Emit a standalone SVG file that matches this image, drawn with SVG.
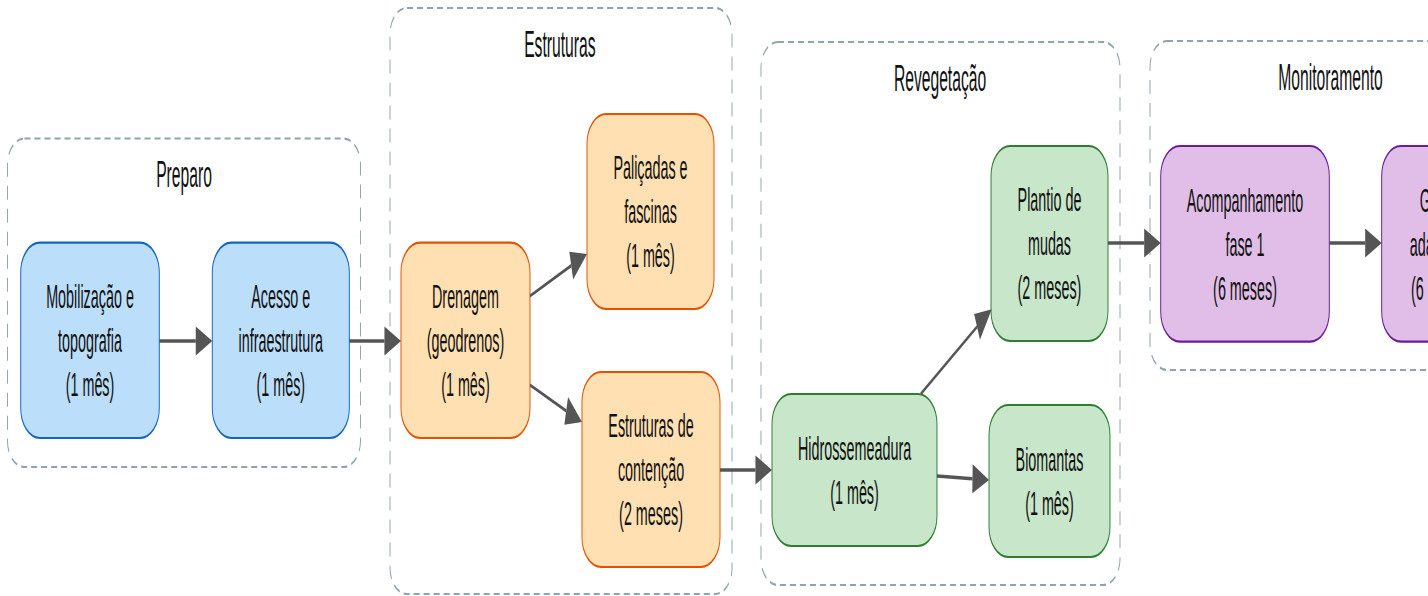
<svg xmlns="http://www.w3.org/2000/svg" width="1428" height="596" viewBox="0 0 1428 596">
<style>
.cl{fill:#fff;stroke:#90a4ae;stroke-width:2.2;stroke-dasharray:14 9}
.ct{font-family:"Liberation Sans",Arial,sans-serif;font-size:36px;fill:#111;text-anchor:middle}
.nt{font-family:"Liberation Sans",Arial,sans-serif;font-size:33px;fill:#111;text-anchor:middle}
.b{fill:#bbdefb;stroke:#1565c0;stroke-width:2.2}
.o{fill:#ffe0b2;stroke:#e65100;stroke-width:2.2}
.g{fill:#c8e6c9;stroke:#2e7d32;stroke-width:2.2}
.p{fill:#e1bee7;stroke:#6a1b9a;stroke-width:2.2}
.e{fill:none;stroke:#555;stroke-width:3.4}
</style>
<defs>
<marker id="ah" markerUnits="userSpaceOnUse" markerWidth="40" markerHeight="30" refX="0" refY="14.5" orient="auto" overflow="visible">
<path d="M0,0 L38,14.5 L0,29 z" fill="#555"/>
</marker>
</defs>
<rect width="1428" height="596" fill="#fff"/>
<g transform="scale(0.435,1)">
<g id="cluster-preparo">
<rect class="cl" x="17.2" y="138.5" width="811.5" height="328.5" rx="39" ry="26"/>
<text class="ct" x="423" y="187">Preparo</text>
</g>
<g id="cluster-estruturas">
<rect class="cl" x="896.6" y="8" width="786.2" height="586" rx="39" ry="26"/>
<text class="ct" x="1287" y="57">Estruturas</text>
</g>
<g id="cluster-revegetacao">
<rect class="cl" x="1749.4" y="42" width="825.3" height="543" rx="39" ry="26"/>
<text class="ct" x="2161" y="91">Revegetação</text>
</g>
<g id="cluster-monitoramento">
<rect class="cl" x="2643.7" y="41" width="829.9" height="329" rx="39" ry="26"/>
<text class="ct" x="3058.6" y="90">Monitoramento</text>
</g>

<g id="n-mobilizacao">
<rect class="b" x="47.6" y="242.7" width="318.6" height="195.3" rx="44" ry="30"/>
<text class="nt" x="206.9" y="308">Mobilização e</text>
<text class="nt" x="206.9" y="352">topografia</text>
<text class="nt" x="206.9" y="396">(1 mês)</text>
</g>
<g id="n-acesso">
<rect class="b" x="488" y="242.7" width="315" height="195.3" rx="44" ry="30"/>
<text class="nt" x="645.5" y="308">Acesso e</text>
<text class="nt" x="645.5" y="352">infraestrutura</text>
<text class="nt" x="645.5" y="396">(1 mês)</text>
</g>
<g id="n-drenagem">
<rect class="o" x="921.8" y="242.7" width="296.6" height="195.3" rx="44" ry="30"/>
<text class="nt" x="1070.1" y="308">Drenagem</text>
<text class="nt" x="1070.1" y="352">(geodrenos)</text>
<text class="nt" x="1070.1" y="396">(1 mês)</text>
</g>
<g id="n-palicadas">
<rect class="o" x="1349.4" y="114" width="292" height="195" rx="44" ry="30"/>
<text class="nt" x="1495.4" y="179.5">Paliçadas e</text>
<text class="nt" x="1495.4" y="223.5">fascinas</text>
<text class="nt" x="1495.4" y="267.5">(1 mês)</text>
</g>
<g id="n-contencao">
<rect class="o" x="1337.9" y="372" width="317.3" height="195" rx="44" ry="30"/>
<text class="nt" x="1496.6" y="437.5">Estruturas de</text>
<text class="nt" x="1496.6" y="481.5">contenção</text>
<text class="nt" x="1496.6" y="525.5">(2 meses)</text>
</g>
<g id="n-hidrossemeadura">
<rect class="g" x="1774.7" y="394" width="379.3" height="152" rx="44" ry="30"/>
<text class="nt" x="1964.4" y="460">Hidrossemeadura</text>
<text class="nt" x="1964.4" y="504">(1 mês)</text>
</g>
<g id="n-plantio">
<rect class="g" x="2278.2" y="146" width="268.9" height="195" rx="44" ry="30"/>
<text class="nt" x="2412.6" y="211.5">Plantio de</text>
<text class="nt" x="2412.6" y="255.5">mudas</text>
<text class="nt" x="2412.6" y="299.5">(2 meses)</text>
</g>
<g id="n-biomantas">
<rect class="g" x="2273.6" y="405" width="278.1" height="152" rx="44" ry="30"/>
<text class="nt" x="2412.6" y="471">Biomantas</text>
<text class="nt" x="2412.6" y="515">(1 mês)</text>
</g>
<g id="n-acompanhamento">
<rect class="p" x="2668.3" y="146" width="387.6" height="195.7" rx="44" ry="30"/>
<text class="nt" x="2862.1" y="211.8">Acompanhamento</text>
<text class="nt" x="2862.1" y="255.8">fase 1</text>
<text class="nt" x="2862.1" y="299.8">(6 meses)</text>
</g>
<g id="n-gestao">
<rect class="p" x="3176.3" y="146" width="281.8" height="195.7" rx="44" ry="30"/>
<text class="nt" x="3317.2" y="211.8">Gestão</text>
<text class="nt" x="3317.2" y="255.8">adaptativa</text>
<text class="nt" x="3317.2" y="299.8">(6 meses)</text>
</g>

<g id="connectors">
<path class="e" d="M366.2,341 L450,341" marker-end="url(#ah)"/>
<path class="e" d="M803,341 L883.8,341" marker-end="url(#ah)"/>
<path class="e" d="M1218.4,296 L1313.2,265.6" marker-end="url(#ah)"/>
<path class="e" d="M1218.4,385 L1301.6,410.8" marker-end="url(#ah)"/>
<path class="e" d="M1655.2,470 L1736.7,470" marker-end="url(#ah)"/>
<path class="e" d="M2116.6,394 L2246.1,326.8" marker-end="url(#ah)"/>
<path class="e" d="M2154,476 L2235.6,478.7" marker-end="url(#ah)"/>
<path class="e" d="M2547.1,243 L2630.3,243" marker-end="url(#ah)"/>
<path class="e" d="M3055.9,243 L3138.3,243" marker-end="url(#ah)"/>
</g>
</g>
</svg>
